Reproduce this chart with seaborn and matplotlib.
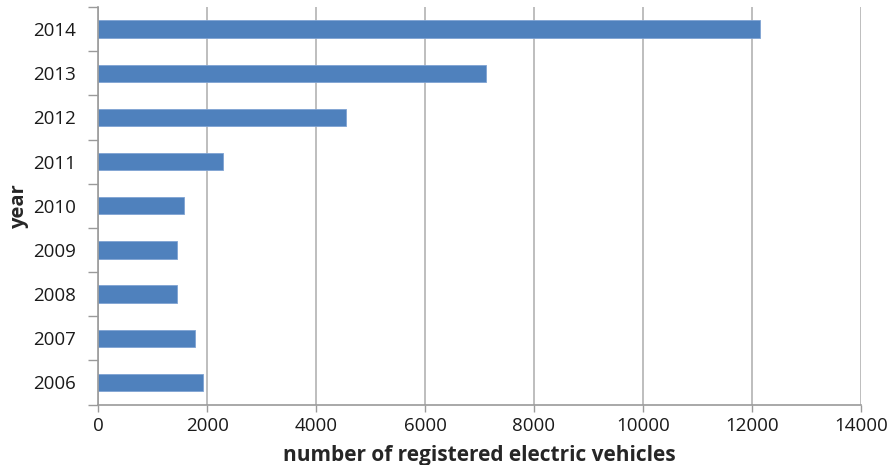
import pandas as pd
import matplotlib.pyplot as plt
import seaborn as sns
from matplotlib.ticker import FixedLocator

# data
years = ["2014", "2013", "2012", "2011", "2010", "2009", "2008", "2007", "2006"]
vehicles = [12150, 7120, 4550, 2300, 1580, 1450, 1450, 1780, 1925]
x_ticks = [0, 2000, 4000, 6000, 8000, 10000, 12000, 14000]

df = pd.DataFrame({"year": years, "vehicles": vehicles})

sns.set_style("white")
plt.rcParams["font.family"] = ["Open Sans", "DejaVu Sans"]

fig, ax = plt.subplots(figsize=(8.92, 4.65), dpi=100)
fig.subplots_adjust(left=0.11, right=0.965, top=0.985, bottom=0.13)

sns.barplot(data=df, x="vehicles", y="year", order=years, color="#4F81BD",
            width=0.39, edgecolor="#7FA3D3", linewidth=0.6, saturation=1, ax=ax)

ax.set_xlim(0, 14000)
ax.set_ylim(len(years) - 0.5, -0.5)
ax.set_xticks(x_ticks)
ax.set_xticklabels([str(t) for t in x_ticks], fontsize=13.5, color="#1a1a1a")
ax.xaxis.grid(True, color="#B3B3B3", linewidth=1.2)
ax.set_axisbelow(True)

# excel style: y ticks sit between the categories
ax.yaxis.set_minor_locator(FixedLocator([i + 0.5 for i in range(-1, len(years))]))
ax.tick_params(axis="y", which="major", length=0, pad=16, labelsize=13.5, labelcolor="#1a1a1a")
ax.tick_params(axis="y", which="minor", length=7, width=1, color="#9a9a9a", direction="out", left=True)
ax.tick_params(axis="x", length=5, width=1, color="#9a9a9a", direction="out", bottom=True, pad=4)

for side in ["top", "right"]:
    ax.spines[side].set_visible(False)
for side in ["left", "bottom"]:
    ax.spines[side].set_color("#9a9a9a")
    ax.spines[side].set_linewidth(1.2)

ax.set_xlabel("number of registered electric vehicles", fontsize=15, fontweight="bold", labelpad=7)
ax.set_ylabel("year", fontsize=14.5, fontweight="bold", labelpad=3)

plt.savefig("out.png", dpi=100)
